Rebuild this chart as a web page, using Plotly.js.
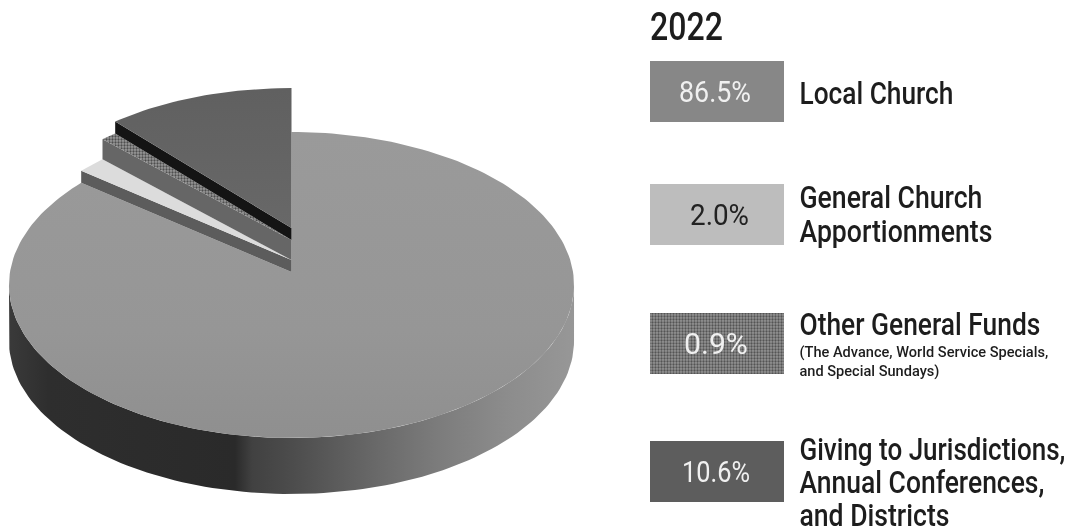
<!DOCTYPE html>
<html>
<head>
<meta charset="utf-8">
<script src="https://cdn.plot.ly/plotly-3.0.1.min.js"></script>
<style>html,body{margin:0;padding:0;background:#fff}#c{width:1071px;height:529px;filter:blur(0.5px)}</style>
</head>
<body>
<div id="c"></div>
<script>
// Data
const categories = ["Local Church", "General Church Apportionments", "Other General Funds", "Giving to Jurisdictions, Annual Conferences, and Districts"];
const percentLabels = ["86.5%", "2.0%", "0.9%", "10.6%"];
// slice shares as actually drawn in the picture
const drawnShares = [85.6, 1.8, 1.0, 11.6];
const legendYear = "2022";
const sliceLift = [0, 12, 32, 44];
const topColors = ["#979797", "#dcdcdc", "#8a8a8a", "#656565"];
const edgeColors = [null, "#5c5c5c", "#666666", "#141414"];
const swatchColors = ["#878787", "#bdbdbd", "#7d7d7d", "#5d5d5d"];
const swatchTextColors = ["#f0f0f0", "#222222", "#f0f0f0", "#f0f0f0"];

// Geometry (projected disc)
const cx = 291.5, cy = 272, A = 281.5, B = 151.9, P = 0.085, DEPTH = 56;
const project = (deg, r = 1) => {
  const t = deg * Math.PI / 180, u = r * Math.sin(t), v = r * Math.cos(t), w = 1 + P * v;
  return [cx + A * u / w, cy - B * v / w];
};
const arc = (a0, a1, lift) => {
  const n = Math.max(2, Math.ceil(Math.abs(a1 - a0) / 1.5)), pts = [];
  for (let i = 0; i <= n; i++) { const p = project(a0 + (a1 - a0) * i / n); pts.push([p[0], p[1] - lift]); }
  return pts;
};
const poly = (pts, extra) => Object.assign({
  type: "scatter", mode: "lines", x: pts.map(p => p[0]), y: pts.map(p => p[1]),
  fill: "toself", line: { width: 0 }, hoverinfo: "skip", showlegend: false
}, extra);

const total = drawnShares.reduce((a, b) => a + b, 0);
let angle = 0;
const bounds = drawnShares.map(s => { const a0 = angle; angle += s / total * 360; return [a0, angle]; });

const traces = [];

// Side wall
const extremeDeg = 90 + Math.asin(P) * 180 / Math.PI;
const frontTop = arc(extremeDeg, 360 - extremeDeg, 0);
const frontBottom = frontTop.map(p => [p[0], p[1] + DEPTH]).reverse();
traces.push(poly(frontTop.concat(frontBottom), {
  fillcolor: "#444",
  fillgradient: {
    type: "horizontal",
    colorscale: [[0, "#3a3a3a"], [0.07, "#2e2e2e"], [0.40, "#2a2a2a"], [0.43, "#414141"],
                 [0.5, "#4c4c4c"], [0.65, "#696969"], [0.76, "#7c7c7c"], [0.88, "#8c8c8c"], [1, "#979797"]]
  }
}));

// Main slice top
const mainPts = [[cx, cy]].concat(arc(bounds[0][0], bounds[0][1], 0), [[cx, cy]]);
traces.push(poly(mainPts, {
  fillcolor: topColors[0],
  fillgradient: { type: "vertical", colorscale: [[0, "#8f8f8f"], [0.35, "#969696"], [1, "#9a9a9a"]] }
}));

// Raised slices
for (let i = 1; i < drawnShares.length; i++) {
  const lift = sliceLift[i], under = sliceLift[i - 1], start = bounds[i][0];
  const rim = project(start);
  traces.push(poly([[cx, cy - lift], [rim[0], rim[1] - lift], [rim[0], rim[1] - under], [cx, cy - under], [cx, cy - lift]],
    { fillcolor: edgeColors[i] }));
  const top = [[cx, cy - lift]].concat(arc(bounds[i][0], bounds[i][1], lift), [[cx, cy - lift]]);
  const extra = { fillcolor: topColors[i] };
  if (i === 2) extra.fillpattern = { shape: ".", bgcolor: "#9a9a9a", fgcolor: "#4e4e4e", size: 3, solidity: 0.45 };
  if (i === 3) extra.fillgradient = { type: "vertical", colorscale: [[0, "#686868"], [1, "#606060"]] };
  traces.push(poly(top, extra));
}

// Legend swatches
const swatchTop = [61, 184, 313, 441], swatchH = 61, swatchL = 650, swatchR = 784;
categories.forEach((c, i) => {
  const t = swatchTop[i], b = t + swatchH;
  const extra = { fillcolor: swatchColors[i] };
  if (i === 2) extra.fillpattern = { shape: ".", bgcolor: "#949494", fgcolor: "#545454", size: 3, solidity: 0.45 };
  traces.push(poly([[swatchL, t], [swatchR, t], [swatchR, b], [swatchL, b], [swatchL, t]], extra));
});

// Text: the reference face is condensed, so each line is narrowed to the width it has there
const FACE = 'Roboto, sans-serif';
const fitWidths = [];
const note = (text, x, y, size, color, width, weight) => {
  fitWidths.push({ width, left: x });
  return { text, x, y, xref: "x", yref: "y", showarrow: false, xanchor: "left", yanchor: "middle",
    font: { family: FACE, size, color, weight: weight || 500 }, align: "left" };
};
const annotations = [note(legendYear, 650, 27, 39, "#1d1d1d", 73)];
const pctLeft = [679, 690, 684, 682], pctWidth = [72, 59, 64, 68];
percentLabels.forEach((p, i) => annotations.push(note(p, pctLeft[i], swatchTop[i] + swatchH / 2, 29, swatchTextColors[i], pctWidth[i], 400)));
const lines = [
  ["Local Church", 93, 32, 154], ["General Church", 197, 32, 183], ["Apportionments", 231, 32, 193],
  ["Other General Funds", 324, 32, 241], ["(The Advance, World Service Specials,", 352, 15, 249], ["and Special Sundays)", 371, 15, 140],
  ["Giving to Jurisdictions,", 449, 32, 266], ["Annual Conferences,", 482, 32, 245], ["and Districts", 515, 32, 150]
];
lines.forEach(l => annotations.push(note(l[0], 799.5, l[1], l[2], "#1d1d1d", l[3])));

Plotly.newPlot("c", traces, {
  width: 1071, height: 529, margin: { l: 0, r: 0, t: 0, b: 0 },
  paper_bgcolor: "#fff", plot_bgcolor: "#fff", showlegend: false,
  xaxis: { range: [0, 1071], visible: false, fixedrange: true },
  yaxis: { range: [529, 0], visible: false, fixedrange: true },
  annotations
}, { displayModeBar: false, staticPlot: true }).then(gd => {
  const fit = () => {
    const origin = gd.getBoundingClientRect().left;
    gd.querySelectorAll(".annotation").forEach((g, i) => {
      const t = g.querySelector("text.annotation-text");
      if (!t || !fitWidths[i]) return;
      const box = t.getBBox(), rect = t.getBoundingClientRect();
      const offset = rect.left - origin - box.x;
      const localLeft = fitWidths[i].left - offset;
      t.setAttribute("transform", `translate(${localLeft},0) scale(${fitWidths[i].width / box.width},1) translate(${-box.x},0)`);
    });
  };
  if (document.fonts && document.fonts.ready) document.fonts.ready.then(fit); else fit();
});
</script>
</body>
</html>
